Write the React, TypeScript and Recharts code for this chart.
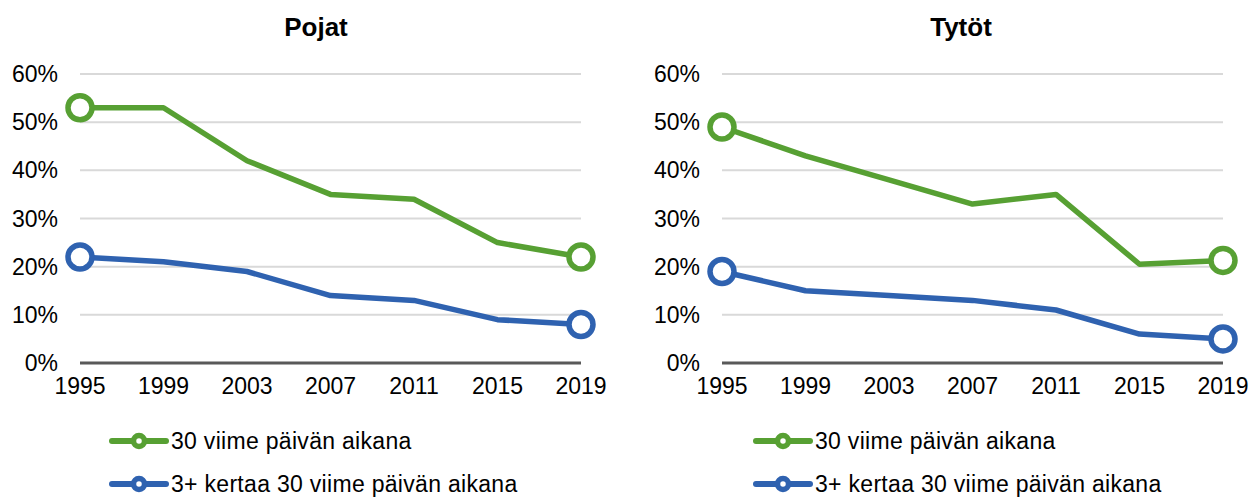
import React from 'react';
import { LineChart, Line, XAxis, YAxis, CartesianGrid } from 'recharts';

const years = [1995, 1999, 2003, 2007, 2011, 2015, 2019];
const yTicks = [0, 10, 20, 30, 40, 50, 60];
const boys30 = [53, 53, 42, 35, 34, 25, 22];
const boys3plus = [22, 21, 19, 14, 13, 9, 8];
const girls30 = [49, 43, 38, 33, 35, 20.5, 21.3];
const girls3plus = [19, 15, 14, 13, 11, 6, 5];
const seriesNames = ['30 viime päivän aikana', '3+ kertaa 30 viime päivän aikana'];
const titles = ['Pojat', 'Tytöt'];

const GREEN = '#57a033';
const BLUE = '#2f62b0';
const FONT = '"Liberation Sans", Arial, sans-serif';

const build = (a: number[], b: number[]) =>
  years.map((y, i) => ({ year: y, a: a[i], b: b[i] }));

const makeDot = (color: string) => (props: any) => {
  const { cx, cy, index } = props;
  if (index === 0 || index === years.length - 1) {
    return <circle key={`d${index}`} cx={cx} cy={cy} r={12} fill="#fff" stroke={color} strokeWidth={5.5} />;
  }
  return <g key={`d${index}`} />;
};

const Panel = ({ data, width, left, marginRight }: { data: any[]; width: number; left: number; marginRight: number }) => (
  <div style={{ position: 'absolute', left, top: 0 }}>
    <LineChart width={width} height={410} data={data} margin={{ top: 74, right: marginRight, bottom: 7, left: 0 }}>
      <CartesianGrid horizontal vertical={false} stroke="#d9d9d9" strokeWidth={2} />
      <XAxis
        dataKey="year"
        type="number"
        domain={[1995, 2019]}
        ticks={years}
        height={40}
        tickSize={0}
        tickMargin={15}
        tickLine={false}
        axisLine={{ stroke: '#595959', strokeWidth: 3 }}
        tick={{ fill: '#000', fontSize: 23, fontFamily: FONT }}
        interval={0}
      />
      <YAxis
        domain={[0, 60]}
        ticks={yTicks}
        width={80}
        tickSize={0}
        tickMargin={22}
        tickLine={false}
        axisLine={false}
        tickFormatter={(v: number) => `${v}%`}
        tick={{ fill: '#000', fontSize: 23, fontFamily: FONT }}
        interval={0}
      />
      <Line dataKey="a" stroke={GREEN} strokeWidth={5.5} dot={makeDot(GREEN)} activeDot={false} isAnimationActive={false} strokeLinejoin="round" />
      <Line dataKey="b" stroke={BLUE} strokeWidth={5.5} dot={makeDot(BLUE)} activeDot={false} isAnimationActive={false} strokeLinejoin="round" />
    </LineChart>
  </div>
);

const LegendRow = ({ color, text, left, cy }: { color: string; text: string; left: number; cy: number }) => (
  <div style={{ position: 'absolute', left, top: cy - 13, height: 26, display: 'flex', alignItems: 'center', fontFamily: FONT, fontSize: 23, color: '#000', whiteSpace: 'nowrap', lineHeight: '26px', letterSpacing: 0.3 }}>
    <svg width={60} height={22} style={{ display: 'block' }}>
      <line x1={3} y1={11} x2={57} y2={11} stroke={color} strokeWidth={6} strokeLinecap="round" />
      <circle cx={30} cy={11} r={5.5} fill="#fff" stroke={color} strokeWidth={5.5} />
    </svg>
    <span style={{ marginLeft: 2 }}>{text}</span>
  </div>
);

export default function App() {
  return (
    <div style={{ position: 'absolute', left: 0, top: 0, width: 1255, height: 498, background: '#fff', overflow: 'hidden' }}>
      <Panel data={build(boys30, boys3plus)} width={627} left={0} marginRight={46} />
      <Panel data={build(girls30, girls3plus)} width={613} left={642} marginRight={32} />
      <div style={{ position: 'absolute', left: 216, width: 200, top: 11, textAlign: 'center', fontFamily: FONT, fontWeight: 'bold', fontSize: 26, lineHeight: '32px' }}>{titles[0]}</div>
      <div style={{ position: 'absolute', left: 861, width: 200, top: 11, textAlign: 'center', fontFamily: FONT, fontWeight: 'bold', fontSize: 26, lineHeight: '32px' }}>{titles[1]}</div>
      <LegendRow color={GREEN} text={seriesNames[0]} left={109} cy={441} />
      <LegendRow color={BLUE} text={seriesNames[1]} left={109} cy={484} />
      <LegendRow color={GREEN} text={seriesNames[0]} left={753} cy={441} />
      <LegendRow color={BLUE} text={seriesNames[1]} left={753} cy={484} />
    </div>
  );
}
